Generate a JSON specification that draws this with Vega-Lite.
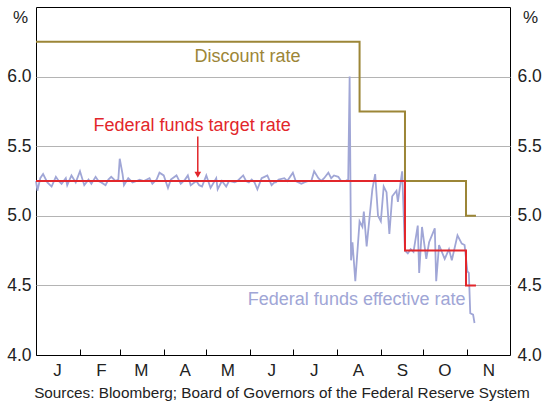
{
  "$schema": "https://vega.github.io/schema/vega-lite/v6.json",
  "width": 474,
  "height": 348,
  "autosize": "none",
  "padding": {"left": 36, "top": 7, "right": 34, "bottom": 47},
  "background": "white",
  "config": {
    "font": "Liberation Sans",
    "view": {"stroke": "black", "strokeWidth": 1}
  },
  "title": {
    "text": "Sources: Bloomberg; Board of Governors of the Federal Reserve System",
    "orient": "bottom",
    "anchor": "middle",
    "fontSize": 15.3,
    "fontWeight": "normal",
    "color": "#222222",
    "offset": 8,
    "dx": 9
  },
  "datasets": {
    "effective": [
      {"date": "2007-01-01", "rate": 5.25}, {"date": "2007-01-02", "rate": 5.18}, {"date": "2007-01-04", "rate": 5.27},
      {"date": "2007-01-06", "rate": 5.30}, {"date": "2007-01-09", "rate": 5.24}, {"date": "2007-01-12", "rate": 5.21},
      {"date": "2007-01-15", "rate": 5.28}, {"date": "2007-01-17", "rate": 5.25}, {"date": "2007-01-19", "rate": 5.23},
      {"date": "2007-01-22", "rate": 5.27}, {"date": "2007-01-23", "rate": 5.22}, {"date": "2007-01-26", "rate": 5.29},
      {"date": "2007-01-29", "rate": 5.24}, {"date": "2007-02-01", "rate": 5.32}, {"date": "2007-02-04", "rate": 5.22},
      {"date": "2007-02-07", "rate": 5.26}, {"date": "2007-02-09", "rate": 5.23}, {"date": "2007-02-12", "rate": 5.28},
      {"date": "2007-02-14", "rate": 5.25}, {"date": "2007-02-16", "rate": 5.24}, {"date": "2007-02-19", "rate": 5.22},
      {"date": "2007-02-21", "rate": 5.26}, {"date": "2007-02-23", "rate": 5.28}, {"date": "2007-02-26", "rate": 5.25},
      {"date": "2007-02-28", "rate": 5.26}, {"date": "2007-03-01", "rate": 5.41}, {"date": "2007-03-03", "rate": 5.30},
      {"date": "2007-03-04", "rate": 5.22}, {"date": "2007-03-07", "rate": 5.27}, {"date": "2007-03-10", "rate": 5.24},
      {"date": "2007-03-13", "rate": 5.25}, {"date": "2007-03-15", "rate": 5.26}, {"date": "2007-03-18", "rate": 5.25},
      {"date": "2007-03-22", "rate": 5.27}, {"date": "2007-03-24", "rate": 5.23}, {"date": "2007-03-27", "rate": 5.26},
      {"date": "2007-03-29", "rate": 5.31}, {"date": "2007-04-01", "rate": 5.29}, {"date": "2007-04-04", "rate": 5.20},
      {"date": "2007-04-06", "rate": 5.26}, {"date": "2007-04-10", "rate": 5.29}, {"date": "2007-04-13", "rate": 5.23},
      {"date": "2007-04-16", "rate": 5.26}, {"date": "2007-04-18", "rate": 5.29}, {"date": "2007-04-20", "rate": 5.22},
      {"date": "2007-04-24", "rate": 5.25}, {"date": "2007-04-26", "rate": 5.22}, {"date": "2007-04-28", "rate": 5.21},
      {"date": "2007-05-01", "rate": 5.29}, {"date": "2007-05-04", "rate": 5.20}, {"date": "2007-05-08", "rate": 5.27},
      {"date": "2007-05-09", "rate": 5.19}, {"date": "2007-05-12", "rate": 5.25}, {"date": "2007-05-15", "rate": 5.21},
      {"date": "2007-05-17", "rate": 5.25}, {"date": "2007-05-21", "rate": 5.24}, {"date": "2007-05-23", "rate": 5.25},
      {"date": "2007-05-25", "rate": 5.27}, {"date": "2007-05-27", "rate": 5.29}, {"date": "2007-05-29", "rate": 5.25},
      {"date": "2007-05-31", "rate": 5.24}, {"date": "2007-06-02", "rate": 5.26}, {"date": "2007-06-04", "rate": 5.24},
      {"date": "2007-06-06", "rate": 5.19}, {"date": "2007-06-09", "rate": 5.27}, {"date": "2007-06-11", "rate": 5.28},
      {"date": "2007-06-13", "rate": 5.29}, {"date": "2007-06-16", "rate": 5.22}, {"date": "2007-06-18", "rate": 5.24},
      {"date": "2007-06-19", "rate": 5.24}, {"date": "2007-06-21", "rate": 5.26}, {"date": "2007-06-25", "rate": 5.27},
      {"date": "2007-06-27", "rate": 5.25}, {"date": "2007-07-01", "rate": 5.31}, {"date": "2007-07-03", "rate": 5.25},
      {"date": "2007-07-05", "rate": 5.24}, {"date": "2007-07-07", "rate": 5.23}, {"date": "2007-07-09", "rate": 5.24},
      {"date": "2007-07-12", "rate": 5.25}, {"date": "2007-07-14", "rate": 5.25}, {"date": "2007-07-16", "rate": 5.32},
      {"date": "2007-07-19", "rate": 5.27}, {"date": "2007-07-21", "rate": 5.25}, {"date": "2007-07-23", "rate": 5.27},
      {"date": "2007-07-26", "rate": 5.31}, {"date": "2007-07-28", "rate": 5.27}, {"date": "2007-07-30", "rate": 5.29},
      {"date": "2007-08-02", "rate": 5.28}, {"date": "2007-08-04", "rate": 5.25}, {"date": "2007-08-07", "rate": 5.25},
      {"date": "2007-08-09", "rate": 5.26}, {"date": "2007-08-10", "rate": 6.00}, {"date": "2007-08-11", "rate": 4.68},
      {"date": "2007-08-12", "rate": 4.81}, {"date": "2007-08-14", "rate": 4.53}, {"date": "2007-08-17", "rate": 4.96},
      {"date": "2007-08-19", "rate": 4.92}, {"date": "2007-08-20", "rate": 5.03}, {"date": "2007-08-22", "rate": 4.78},
      {"date": "2007-08-26", "rate": 5.19}, {"date": "2007-08-28", "rate": 5.30}, {"date": "2007-08-30", "rate": 5.00},
      {"date": "2007-09-01", "rate": 4.96}, {"date": "2007-09-03", "rate": 5.21}, {"date": "2007-09-05", "rate": 5.17},
      {"date": "2007-09-07", "rate": 4.87}, {"date": "2007-09-09", "rate": 5.14}, {"date": "2007-09-12", "rate": 5.18},
      {"date": "2007-09-13", "rate": 5.10}, {"date": "2007-09-16", "rate": 5.32}, {"date": "2007-09-18", "rate": 4.75},
      {"date": "2007-09-20", "rate": 4.73}, {"date": "2007-09-22", "rate": 4.76}, {"date": "2007-09-24", "rate": 4.74},
      {"date": "2007-09-27", "rate": 4.93}, {"date": "2007-09-28", "rate": 4.59}, {"date": "2007-09-30", "rate": 4.92},
      {"date": "2007-10-03", "rate": 4.69}, {"date": "2007-10-05", "rate": 4.81}, {"date": "2007-10-09", "rate": 4.91},
      {"date": "2007-10-10", "rate": 4.53}, {"date": "2007-10-12", "rate": 4.79}, {"date": "2007-10-16", "rate": 4.69},
      {"date": "2007-10-19", "rate": 4.76}, {"date": "2007-10-21", "rate": 4.68}, {"date": "2007-10-25", "rate": 4.86},
      {"date": "2007-10-28", "rate": 4.80}, {"date": "2007-10-30", "rate": 4.79}, {"date": "2007-11-01", "rate": 4.60},
      {"date": "2007-11-02", "rate": 4.59}, {"date": "2007-11-03", "rate": 4.30}, {"date": "2007-11-05", "rate": 4.29},
      {"date": "2007-11-06", "rate": 4.23}
    ],
    "steps": [
      {"series": "Discount rate", "date": "2007-01-01", "rate": 6.25},
      {"series": "Discount rate", "date": "2007-08-17", "rate": 5.75},
      {"series": "Discount rate", "date": "2007-09-18", "rate": 5.25},
      {"series": "Discount rate", "date": "2007-10-31", "rate": 5.00},
      {"series": "Discount rate", "date": "2007-11-07", "rate": 5.00},
      {"series": "Federal funds target rate", "date": "2007-01-01", "rate": 5.25},
      {"series": "Federal funds target rate", "date": "2007-09-18", "rate": 4.75},
      {"series": "Federal funds target rate", "date": "2007-10-31", "rate": 4.50},
      {"series": "Federal funds target rate", "date": "2007-11-07", "rate": 4.50}
    ],
    "labels": [
      {"series": "Discount rate", "date": "2007-05-30", "rate": 6.143},
      {"series": "Federal funds target rate", "date": "2007-04-21", "rate": 5.643},
      {"series": "Federal funds effective rate", "date": "2007-08-15", "rate": 4.393}
    ],
    "arrow": [
      {"date": "2007-04-25", "top": 5.57, "tip": 5.295}
    ]
  },
  "encoding": {
    "x": {
      "field": "date",
      "type": "temporal",
      "scale": {"type": "utc", "domain": [1167609600000, 1196467200000]},
      "axis": {
        "values": [1167609600000, 1170288000000, 1172707200000, 1175385600000, 1177977600000, 1180656000000, 1183248000000, 1185926400000, 1188604800000, 1191196800000, 1193875200000],
        "labelExpr": "substring(utcFormat(datum.value, '%b'), 0, 1)",
        "labelOffset": 21,
        "labelFlush": false,
        "labelOverlap": false,
        "labelBound": false,
        "labelFontSize": 17,
        "labelColor": "#222222",
        "labelPadding": 13,
        "tickSize": -6,
        "tickColor": "#000000",
        "domainColor": "#000000",
        "grid": false,
        "title": null
      }
    }
  },
  "layer": [
    {
      "data": {"name": "effective"},
      "mark": {"type": "line", "color": "#a0a6d6", "strokeWidth": 1.8},
      "encoding": {
        "y": {
          "field": "rate",
          "type": "quantitative",
          "scale": {"domain": [4, 6.5], "nice": false, "zero": false},
          "axis": {
            "orient": "left",
            "values": [4, 4.5, 5, 5.5, 6],
            "format": ".1f",
            "ticks": false,
            "domain": false,
            "grid": true,
            "gridColor": "#b4b4b4",
            "labelFontSize": 17.5,
            "labelColor": "#222222",
            "labelPadding": 5,
            "title": "%",
            "titleAngle": 0,
            "titleX": -16,
            "titleY": 10,
            "titleFontSize": 17,
            "titleFontWeight": "normal",
            "titleColor": "#222222",
            "titleAlign": "center",
            "titleBaseline": "middle"
          }
        }
      }
    },
    {
      "data": {"name": "steps"},
      "mark": {"type": "line", "interpolate": "step-after", "strokeWidth": 2},
      "encoding": {
        "y": {
          "field": "rate",
          "type": "quantitative",
          "scale": {"domain": [4, 6.5], "nice": false, "zero": false},
          "axis": {
            "orient": "right",
            "values": [4, 4.5, 5, 5.5, 6],
            "format": ".1f",
            "ticks": false,
            "domain": false,
            "grid": false,
            "labelFontSize": 17.5,
            "labelColor": "#222222",
            "labelPadding": 7,
            "title": "%",
            "titleAngle": 0,
            "titleX": 20,
            "titleY": 10,
            "titleFontSize": 17,
            "titleFontWeight": "normal",
            "titleColor": "#222222",
            "titleAlign": "center",
            "titleBaseline": "middle"
          }
        },
        "color": {
          "field": "series",
          "type": "nominal",
          "scale": {"domain": ["Discount rate", "Federal funds target rate", "Federal funds effective rate"], "range": ["#9c8637", "#e2262b", "#a0a6d6"]},
          "legend": null
        }
      }
    },
    {
      "data": {"name": "labels"},
      "mark": {"type": "text", "fontSize": 18, "align": "center", "baseline": "middle"},
      "encoding": {
        "y": {"field": "rate", "type": "quantitative", "axis": null},
        "text": {"field": "series"},
        "color": {"field": "series", "type": "nominal", "legend": null}
      }
    },
    {
      "data": {"name": "arrow"},
      "mark": {"type": "rule", "color": "#e2262b", "strokeWidth": 1.5},
      "encoding": {
        "y": {"field": "top", "type": "quantitative", "axis": null},
        "y2": {"field": "tip"}
      }
    },
    {
      "data": {"name": "arrow"},
      "mark": {"type": "point", "shape": "triangle-down", "filled": true, "color": "#e2262b", "size": 45, "opacity": 1},
      "encoding": {
        "y": {"field": "tip", "type": "quantitative", "axis": null}
      }
    }
  ],
  "resolve": {"axis": {"y": "independent"}}
}
